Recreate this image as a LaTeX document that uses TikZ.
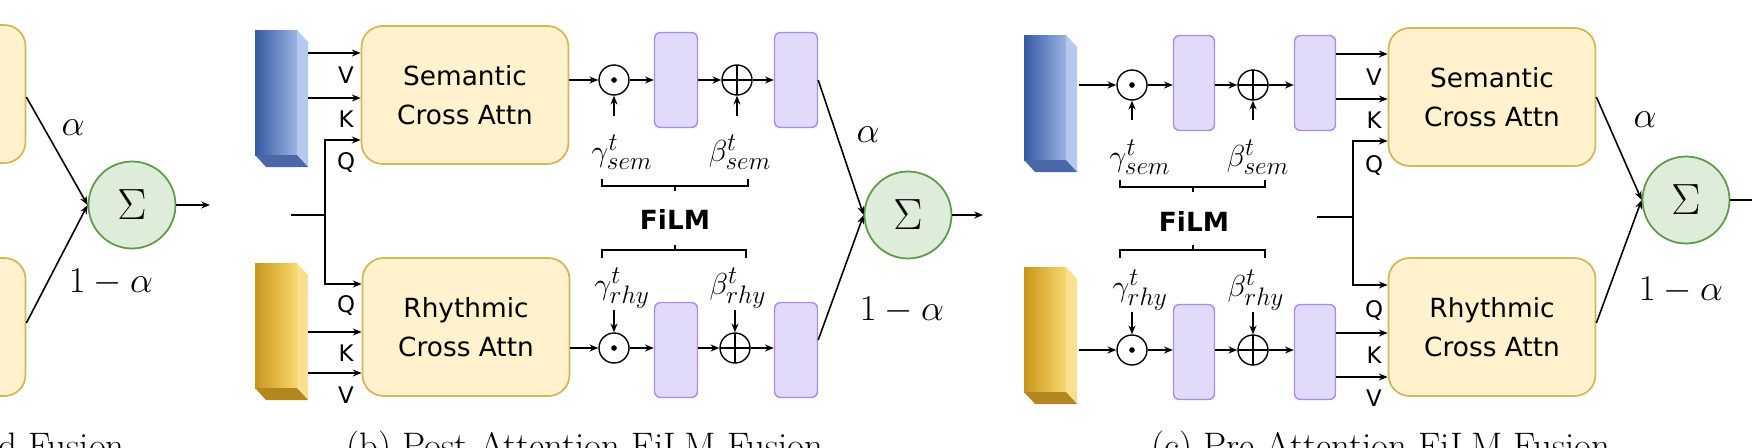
\documentclass[tikz,border=0pt]{standalone}
\usepackage{fontspec}
\setsansfont{DejaVu Sans}
\usetikzlibrary{arrows.meta}
\definecolor{boxf}{HTML}{FFF2CC}\definecolor{boxd}{HTML}{D6B656}
\definecolor{purf}{HTML}{E1DAF8}\definecolor{purd}{HTML}{A98BF0}
\definecolor{sumf}{HTML}{DDEDD9}\definecolor{sumd}{HTML}{5E9A4A}
\definecolor{bl1}{HTML}{355AA3}\definecolor{bl2}{HTML}{9AB3E3}\definecolor{bl3}{HTML}{B5C8EE}\definecolor{bl4}{HTML}{4A67A8}
\definecolor{ye1}{HTML}{C9951A}\definecolor{ye2}{HTML}{F6D870}\definecolor{ye3}{HTML}{F8E08F}\definecolor{ye4}{HTML}{B38620}
\begin{document}
\begin{tikzpicture}[x=0.02cm,y=-0.02cm,
  ln/.style={line width=0.9pt},
  arr/.style={ln,-{Stealth[length=5pt,width=4pt]}},
  attn/.style={draw=boxd,fill=boxf,line width=1pt,rounded corners=0.42cm,minimum width=4.14cm,minimum height=2.76cm,align=center,font=\sffamily\fontsize{15}{22}\selectfont},
  film/.style={draw=purd,fill=purf,line width=0.8pt,rounded corners=0.12cm,minimum height=1.9cm},
  filmb/.style={film,minimum width=0.86cm},
  filmc/.style={film,minimum width=0.82cm},
  sum/.style={circle,draw=sumd,fill=sumf,line width=1pt,minimum size=1.74cm,inner sep=0pt,font=\fontsize{42}{42}\selectfont},
  odot/.style={circle,draw,line width=0.8pt,minimum size=0.6cm,inner sep=0pt,path picture={\fill (path picture bounding box.center) circle (1.6pt);}},
  oplus/.style={circle,draw,line width=0.8pt,minimum size=0.6cm,inner sep=0pt,path picture={\draw[line width=0.8pt] (path picture bounding box.north)--(path picture bounding box.south) (path picture bounding box.west)--(path picture bounding box.east);}},
  kvq/.style={font=\sffamily\fontsize{13}{13}\selectfont,inner sep=0pt},
  mlab/.style={font=\fontsize{19}{19}\selectfont,inner sep=0pt},
  wlab/.style={font=\fontsize{21}{21}\selectfont,inner sep=0pt},
  captxt/.style={font=\fontsize{21}{21}\selectfont,anchor=base west,inner sep=0pt},
  filmlab/.style={font=\sffamily\bfseries\fontsize{15}{15}\selectfont,inner sep=0pt}]
\useasboundingbox (0,0) rectangle (1752,447);
\clip (0,0) rectangle (1752,447);

% ---------- blocks
\newcommand{\myblock}[6]{%
  \shade[left color=#3,right color=#4] (#1,#2) rectangle (#1+42,#2+125);
  \fill[#5] (#1+42,#2) -- (#1+53,#2+12) -- (#1+53,#2+137) -- (#1+42,#2+125) -- cycle;
  \fill[#6] (#1,#2+125) -- (#1+42,#2+125) -- (#1+53,#2+137) -- (#1+11,#2+137) -- cycle;}
\myblock{255}{30}{bl1}{bl2}{bl3}{bl4}
\myblock{255}{263}{ye1}{ye2}{ye3}{ye4}
\myblock{1024}{35}{bl1}{bl2}{bl3}{bl4}
\myblock{1024}{267}{ye1}{ye2}{ye3}{ye4}

% ---------- panel (a)
\node[attn] (asem) at (-78,94) {};
\node[attn] (arhy) at (-78,327) {};
\node[sum] (s1) at (132,205) {$\Sigma$};
\coordinate (ao) at (210,205);
\draw[arr] (asem.east|-0,97) -- (s1.west);
\draw[arr] (arhy.east|-0,323) -- (s1.west);
\draw[arr] (s1.east) -- (ao);
\node[wlab] (aal) at (73,128) {$\alpha$};
\node[wlab] (aoa) at (111,282) {$1-\alpha$};
\node[captxt] (capa) at (-2,458) {d Fusion};

% ---------- panel (b)
\node[attn] (bsem) at (465,95) {Semantic\\Cross Attn};
\node[attn] (brhy) at (466,327) {Rhythmic\\Cross Attn};
\coordinate (bv1) at (308,53); \coordinate (bk1) at (308,98);
\coordinate (bv2) at (308,373); \coordinate (bk2) at (308,332);
\coordinate (bq0) at (291,215); \coordinate (bqj) at (325,215);
\draw[arr] (bv1) -- (bsem.west|-bv1);
\draw[arr] (bk1) -- (bsem.west|-bk1);
\draw[arr] (bk2) -- (brhy.west|-bk2);
\draw[arr] (bv2) -- (brhy.west|-bv2);
\draw[ln] (bq0) -- (bqj);
\draw[arr] (bqj) -- (325,140) -- (bsem.west|-0,140);
\draw[arr] (bqj) -- (325,284) -- (brhy.west|-0,284);
\node[kvq] at (346,75) {V}; \node[kvq] at (346,119) {K}; \node[kvq] at (346,162) {Q};
\node[kvq] at (346,305) {Q}; \node[kvq] at (346,353) {K}; \node[kvq] at (346,395) {V};

\node[odot] (bo1) at (614,80) {};
\node[filmb] (br1) at (676,80) {};
\node[oplus] (bp1) at (737,80) {};
\node[filmb] (br2) at (796,80) {};
\node[odot] (bo2) at (614,348) {};
\node[filmb] (br3) at (676,350) {};
\node[oplus] (bp2) at (735,348) {};
\node[filmb] (br4) at (796,350) {};
\draw[arr] (bsem.east|-bo1) -- (bo1);
\draw[arr] (bo1) -- (br1.west|-bo1);
\draw[arr] (br1.east|-bp1) -- (bp1);
\draw[arr] (bp1) -- (br2.west|-bp1);
\draw[arr] (brhy.east|-bo2) -- (bo2);
\draw[arr] (bo2) -- (br3.west|-bo2);
\draw[arr] (br3.east|-bp2) -- (bp2);
\draw[arr] (bp2) -- (br4.west|-bp2);
\coordinate (bg1) at (614,116); \coordinate (bb1) at (737,116);
\coordinate (bg2) at (614,310); \coordinate (bb2) at (735,310);
\draw[arr] (bg1) -- (bo1); \draw[arr] (bb1) -- (bp1);
\draw[arr] (bg2) -- (bo2); \draw[arr] (bb2) -- (bp2);
\node[mlab] at (622,152) {$\gamma^t_{sem}$};
\node[mlab] at (740,152) {$\beta^t_{sem}$};
\node[mlab] at (622,288) {$\gamma^t_{rhy}$};
\node[mlab] at (738,288) {$\beta^t_{rhy}$};
\draw[ln] (602,179) -- (602,186) -- (748,186) -- (748,179) (675,186) -- (675,191);
\draw[ln] (602,258) -- (602,250) -- (746,250) -- (746,258) (675,250) -- (675,245);
\node[filmlab] at (675,219) {FiLM};
\node[sum] (s2) at (908,215) {$\Sigma$};
\coordinate (bo) at (983,215);
\draw[arr] (br2.east) -- (s2.west);
\draw[arr] (br4.east|-0,340) -- (s2.west);
\draw[arr] (s2.east) -- (bo);
\node[wlab] at (868,135) {$\alpha$};
\node[wlab] at (902,310) {$1-\alpha$};
\node[captxt] (capb) at (346,458) {(b) Post-Attention FiLM Fusion};

% ---------- panel (c)
\node[odot] (co1) at (1132,85) {};
\node[filmc] (cr1) at (1194,83) {};
\node[oplus] (cp1) at (1253,85) {};
\node[filmc] (cr2) at (1315,83) {};
\node[odot] (co2) at (1132,350) {};
\node[filmc] (cr3) at (1194,352) {};
\node[oplus] (cp2) at (1253,350) {};
\node[filmc] (cr4) at (1315,352) {};
\coordinate (cin1) at (1079,85); \coordinate (cin2) at (1079,350);
\draw[arr] (cin1) -- (co1);
\draw[arr] (co1) -- (cr1.west|-co1);
\draw[arr] (cr1.east|-cp1) -- (cp1);
\draw[arr] (cp1) -- (cr2.west|-cp1);
\draw[arr] (cin2) -- (co2);
\draw[arr] (co2) -- (cr3.west|-co2);
\draw[arr] (cr3.east|-cp2) -- (cp2);
\draw[arr] (cp2) -- (cr4.west|-cp2);
\coordinate (cg1) at (1132,120); \coordinate (cb1) at (1253,120);
\coordinate (cg2) at (1132,312); \coordinate (cb2) at (1253,312);
\draw[arr] (cg1) -- (co1); \draw[arr] (cb1) -- (cp1);
\draw[arr] (cg2) -- (co2); \draw[arr] (cb2) -- (cp2);
\node[mlab] at (1140,157) {$\gamma^t_{sem}$};
\node[mlab] at (1258,157) {$\beta^t_{sem}$};
\node[mlab] at (1140,290) {$\gamma^t_{rhy}$};
\node[mlab] at (1256,290) {$\beta^t_{rhy}$};
\draw[ln] (1120,180) -- (1120,187) -- (1265,187) -- (1265,180) (1193,187) -- (1193,192);
\draw[ln] (1120,258) -- (1120,250) -- (1265,250) -- (1265,258) (1193,250) -- (1193,245);
\node[filmlab] at (1194,221) {FiLM};

\node[attn] (csem) at (1492,97) {Semantic\\Cross Attn};
\node[attn] (crhy) at (1492,327) {Rhythmic\\Cross Attn};
\draw[arr] (cr2.east|-0,54) -- (csem.west|-0,54);
\draw[arr] (cr2.east|-0,99) -- (csem.west|-0,99);
\draw[arr] (cr4.east|-0,333) -- (crhy.west|-0,333);
\draw[arr] (cr4.east|-0,377) -- (crhy.west|-0,377);
\coordinate (cq0) at (1317,217); \coordinate (cqj) at (1353,217);
\draw[ln] (cq0) -- (cqj);
\draw[arr] (cqj) -- (1353,141) -- (csem.west|-0,141);
\draw[arr] (cqj) -- (1353,285) -- (crhy.west|-0,285);
\node[kvq] at (1374,77) {V}; \node[kvq] at (1374,120) {K}; \node[kvq] at (1374,165) {Q};
\node[kvq] at (1374,310) {Q}; \node[kvq] at (1374,355) {K}; \node[kvq] at (1374,398) {V};
\node[sum] (s3) at (1686,200) {$\Sigma$};
\coordinate (co) at (1790,200);
\draw[arr] (csem.east|-0,97) -- (s3.west);
\draw[arr] (crhy.east|-0,323) -- (s3.west);
\draw[ln] (s3.east) -- (co);
\node[wlab] at (1645,120) {$\alpha$};
\node[wlab] at (1681,290) {$1-\alpha$};
\node[captxt] (capc) at (1151,458) {(c) Pre-Attention FiLM Fusion};
\end{tikzpicture}
\end{document}
